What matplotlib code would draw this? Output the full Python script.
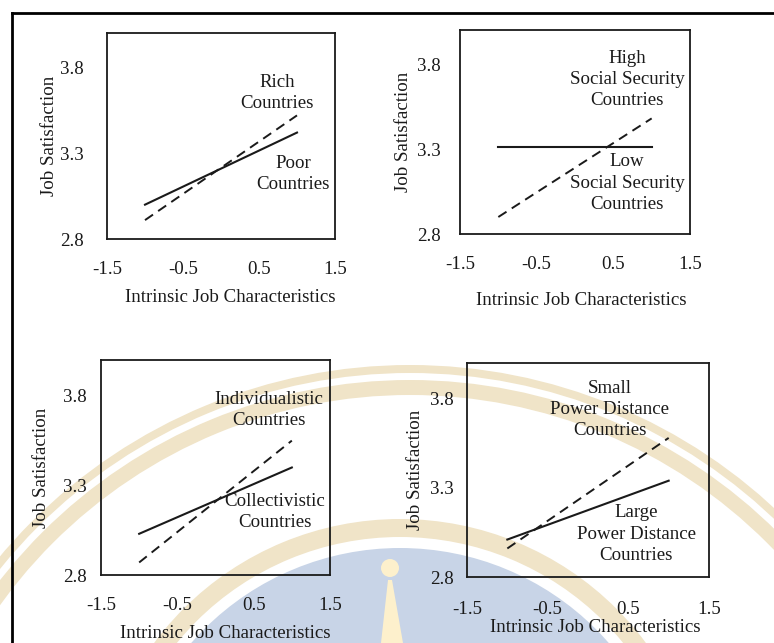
import matplotlib
matplotlib.use("Agg")
import matplotlib.pyplot as plt
from matplotlib.patches import Circle, Wedge, Polygon
from matplotlib.lines import Line2D

# Simple slopes: job satisfaction at low (-1) and high (+1) intrinsic job characteristics
x_ends = [-1.0, 1.0]

panel_solid = [
    [3.00, 3.42],  # poor countries
    [3.31, 3.31],  # low social security countries
    [3.03, 3.40],  # collectivistic countries
    [3.01, 3.34],  # large power distance countries
]
panel_dashed = [
    [2.91, 3.52],  # rich countries
    [2.90, 3.48],  # high social security countries
    [2.87, 3.55],  # individualistic countries
    [2.96, 3.58],  # small power distance countries
]
dashed_labels = [
    "Rich\nCountries",
    "High\nSocial Security\nCountries",
    "Individualistic\nCountries",
    "Small\nPower Distance\nCountries",
]
solid_labels = [
    "Poor\nCountries",
    "Low\nSocial Security\nCountries",
    "Collectivistic\nCountries",
    "Large\nPower Distance\nCountries",
]
dashed_label_pos = [(0.74, 3.65), (0.68, 3.71), (0.70, 3.72), (0.27, 3.74)]
solid_label_pos = [(0.95, 3.18), (0.68, 3.10), (0.78, 3.15), (0.60, 3.04)]

x_ticks = [-1.5, -0.5, 0.5, 1.5]
y_ticks = [2.8, 3.3, 3.8]
x_label = "Intrinsic Job Characteristics"
y_label = "Job Satisfaction"

# Layout (pixels): box left, right, top, bottom; label centres; tick pads (pt)
W, H = 774, 643
boxes = [(107, 335, 33, 239), (460, 690, 30, 234), (101, 330, 360, 575), (467, 709, 363, 577)]
xlabel_x = [230, 581, 225, 595]
xlabel_y = [297, 300, 633, 628]
ylabel_x = [50, 404, 42, 415]
xpad = [16, 16, 15.5, 17]
ypad = [17, 14, 10, 9.5]

ink = "#1a1a1a"
fs = 13.6
plt.rcParams["font.family"] = ["Liberation Serif", "DejaVu Serif"]

fig = plt.figure(figsize=(W / 100, H / 100), dpi=100)
fig.patch.set_facecolor("white")

# faint scanned watermark in the background
bg = fig.add_axes([0, 0, 1, 1], zorder=-5)
bg.set_xlim(0, W)
bg.set_ylim(H, 0)
bg.axis("off")
beige = "#f0e4c8"
bg.add_patch(Circle((400, 825), 277, color="#c8d4e7", lw=0))
bg.add_patch(Wedge((400, 825), 306, 0, 360, width=18, color=beige, lw=0))
bg.add_patch(Wedge((410, 900), 520, 0, 360, width=15, color=beige, lw=0))
bg.add_patch(Wedge((410, 900), 535, 0, 360, width=8, color=beige, lw=0))
bg.add_patch(Circle((390, 568), 9, color="#fdf0cc", lw=0))
bg.add_patch(Polygon([(388, 580), (392, 580), (403, 643), (381, 643)], color="#fdf0cc", lw=0))

# outer frame of the scanned figure
fig.add_artist(Line2D([12 / W, 1], [1 - 13 / H, 1 - 13 / H], color="black", lw=2))
fig.add_artist(Line2D([12 / W, 12 / W], [1 - 13 / H, 0], color="black", lw=2))

for i in range(4):
    l, r, t, b = boxes[i]
    ax = fig.add_axes([l / W, 1 - b / H, (r - l) / W, (b - t) / H])
    ax.set_facecolor("none")
    ax.plot(x_ends, panel_solid[i], color=ink, lw=1.5)
    ax.plot(x_ends, panel_dashed[i], color=ink, lw=1.4, linestyle=(0, (5, 3.2)))
    tx, ty = dashed_label_pos[i]
    ax.text(tx, ty, dashed_labels[i], ha="center", va="center", fontsize=fs,
            color=ink, linespacing=1.33)
    tx, ty = solid_label_pos[i]
    ax.text(tx, ty, solid_labels[i], ha="center", va="center", fontsize=fs,
            color=ink, linespacing=1.33)

    ax.set_xlim(-1.5, 1.5)
    ax.set_ylim(2.8, 4.0)
    ax.set_xticks(x_ticks)
    ax.set_xticklabels(["%.1f" % v for v in x_ticks])
    ax.set_yticks(y_ticks)
    ax.set_yticklabels(["%.1f" % v for v in y_ticks])
    ax.tick_params(axis="x", length=0, pad=xpad[i], labelsize=fs, labelcolor=ink)
    ax.tick_params(axis="y", length=0, pad=ypad[i], labelsize=fs, labelcolor=ink)
    for s in ax.spines.values():
        s.set_linewidth(1.3)
        s.set_color(ink)

    ax.set_xlabel(x_label, fontsize=fs, color=ink)
    ax.xaxis.set_label_coords((xlabel_x[i] - l) / (r - l), (b - xlabel_y[i]) / (b - t))
    ax.xaxis.label.set_va("center")
    ax.set_ylabel(y_label, fontsize=fs, color=ink)
    ax.yaxis.set_label_coords((ylabel_x[i] - l) / (r - l), 0.5)
    ax.yaxis.label.set_va("center")

fig.savefig("out.png", dpi=100, facecolor="white")
